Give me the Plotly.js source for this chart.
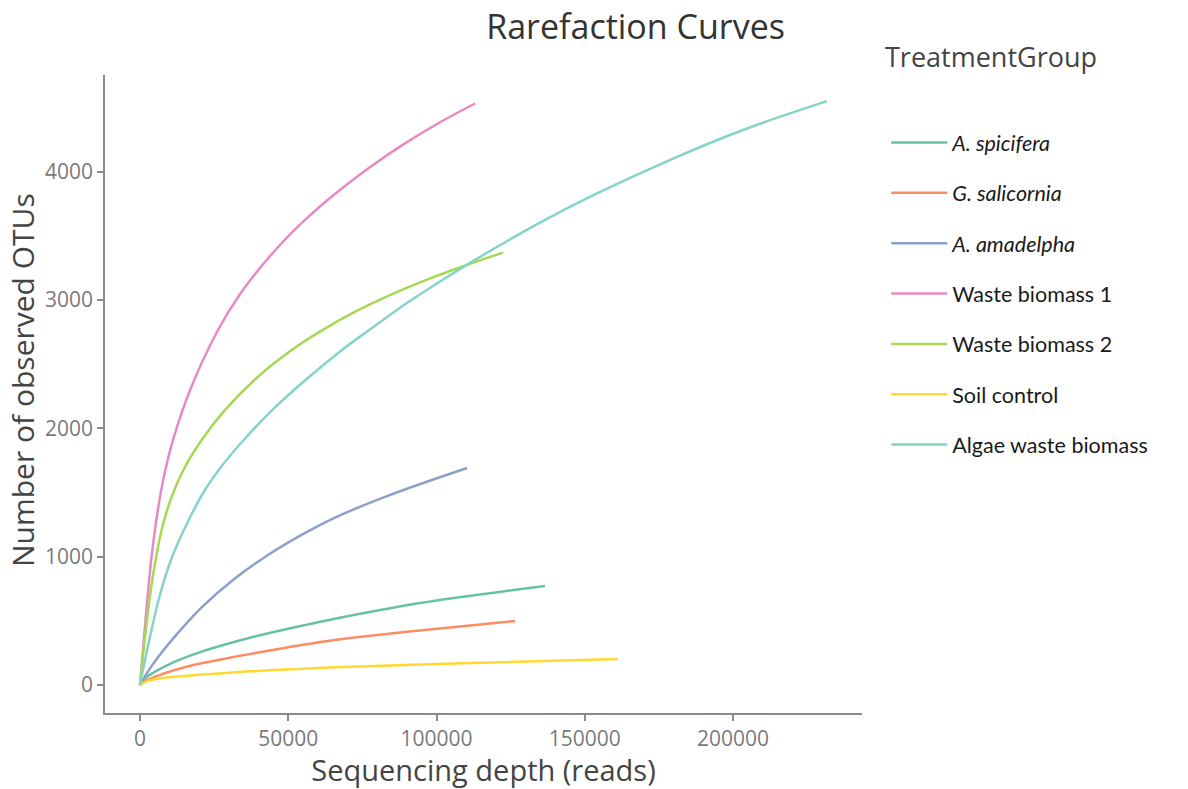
<!DOCTYPE html>
<html>
<head>
<meta charset="utf-8">
<script src="https://cdn.plot.ly/plotly-3.0.1.min.js"></script>
<style>html,body{margin:0;padding:0;background:#fff;}#chart{width:1188px;height:789px;}</style>
</head>
<body>
<div id="chart"></div>
<script>
// Series names (legend order)
const seriesNames = [
  "<i>A. spicifera</i>",
  "<i>G. salicornia</i>",
  "<i>A. amadelpha</i>",
  "Waste biomass 1",
  "Waste biomass 2",
  "Soil control",
  "Algae waste biomass"
];
const seriesColors = ["#66c2a5", "#fc8d62", "#8da0cb", "#e78ac3", "#a6d854", "#ffd92f", "#86d4c9"];

// Sequencing depth (reads) and observed OTUs
const spiciferaX = [0, 1700, 5100, 11800, 20800, 32000, 43300, 54500, 65800, 94400, 136600];
const spiciferaY = [0, 52, 104, 182, 260, 337, 403, 462, 517, 639, 772];

const salicorniaX = [0, 1700, 5100, 11800, 20800, 32000, 43300, 54500, 65800, 94400, 126500];
const salicorniaY = [0, 30, 65, 117, 169, 221, 267, 312, 351, 425, 499];

const amadelphaX = [0, 2300, 6200, 12900, 20800, 32000, 43300, 54500, 65800, 83300, 110300];
const amadelphaY = [0, 91, 220, 408, 605, 830, 1015, 1170, 1305, 1472, 1691];

const waste1X = [0, 1100, 2300, 3900, 6200, 8400, 11200, 16900, 25900, 33700, 45000, 56200, 67500, 78700, 89900, 101200, 113000];
const waste1Y = [0, 300, 620, 1000, 1390, 1660, 1915, 2299, 2749, 3045, 3373, 3636, 3860, 4055, 4229, 4386, 4532];

const waste2X = [0, 1100, 2300, 4500, 7300, 10700, 15200, 20800, 28100, 39400, 50600, 61800, 73100, 84300, 95500, 106800, 114700, 122400];
const waste2Y = [0, 250, 495, 871, 1208, 1468, 1701, 1910, 2129, 2395, 2602, 2770, 2915, 3038, 3147, 3246, 3309, 3370];

const soilX = [0, 2800, 9500, 32000, 65800, 111300, 161200];
const soilY = [0, 34, 60, 99, 138, 171, 203];

const algaeX = [0, 1700, 3900, 6700, 10700, 16300, 21900, 28700, 36000, 45000, 56200, 67500, 78700, 89900, 101200, 114700, 134900, 154100, 179800, 204700, 231700];
const algaeY = [0, 195, 430, 700, 990, 1280, 1520, 1740, 1935, 2152, 2385, 2600, 2790, 2975, 3145, 3337, 3604, 3831, 4103, 4337, 4550];

// X and Y ticks
const xTicks = [0, 50000, 100000, 150000, 200000];
const yTicks = [0, 1000, 2000, 3000, 4000];

const xs = [spiciferaX, salicorniaX, amadelphaX, waste1X, waste2X, soilX, algaeX];
const ys = [spiciferaY, salicorniaY, amadelphaY, waste1Y, waste2Y, soilY, algaeY];

const traces = seriesNames.map((n, i) => ({
  type: "scatter",
  mode: "lines",
  name: n,
  x: xs[i],
  y: ys[i],
  line: {color: seriesColors[i], width: 2.5, shape: "spline", smoothing: 1},
  legendgroup: "g" + i
}));

const axisColor = "#8a8a8a";
const layout = {
  width: 1188,
  height: 789,
  margin: {l: 105, r: 326, t: 75, b: 76},
  paper_bgcolor: "#fff",
  plot_bgcolor: "#fff",
  font: {family: "Open Sans, sans-serif", color: "#444"},
  title: {
    text: "Rarefaction Curves",
    font: {size: 34, color: "#333"},
    xref: "container", x: 0.535, xanchor: "center",
    yref: "container", y: 0.966, yanchor: "middle"
  },
  xaxis: {
    range: [-11800, 243500],
    tickvals: xTicks,
    ticktext: xTicks.map(String),
    showgrid: false, zeroline: false,
    showline: true, linecolor: axisColor, linewidth: 1.5,
    ticks: "outside", ticklen: 6, tickcolor: axisColor, tickwidth: 1.5,
    tickfont: {size: 21, color: "#7a7a7a"},
    title: {text: "Sequencing depth (reads)", font: {size: 29, color: "#444"}, standoff: 5}
  },
  yaxis: {
    range: [-218, 4754],
    tickvals: yTicks,
    ticktext: yTicks.map(String),
    showgrid: false, zeroline: false,
    showline: true, linecolor: axisColor, linewidth: 1.5,
    ticks: "outside", ticklen: 6, tickcolor: axisColor, tickwidth: 1.5,
    tickfont: {size: 21, color: "#7a7a7a"}
  },
  showlegend: true,
  legend: {
    xref: "container", x: 0.746, xanchor: "left",
    yref: "container", y: 1 - 122 / 789, yanchor: "top",
    font: {family: "Lato, Carlito, sans-serif", size: 21.5, color: "#1a1a1a"},
    traceorder: "grouped",
    tracegroupgap: 19.4,
    itemwidth: 56,
    bgcolor: "rgba(0,0,0,0)"
  },
  annotations: [{
    text: "TreatmentGroup",
    xref: "paper", yref: "paper",
    x: (883 - 105) / 757, xanchor: "left",
    y: (713 - 56) / 638, yanchor: "middle",
    showarrow: false,
    font: {size: 27, color: "#444"}
  }, {
    text: "Number of observed OTUs",
    xref: "paper", yref: "paper",
    x: (22 - 105) / 757, xanchor: "center",
    y: (713 - 380) / 638, yanchor: "middle",
    textangle: -90,
    showarrow: false,
    font: {size: 30, color: "#444"}
  }]
};

Plotly.newPlot("chart", traces, layout, {displayModeBar: false, responsive: false});
</script>
</body>
</html>
